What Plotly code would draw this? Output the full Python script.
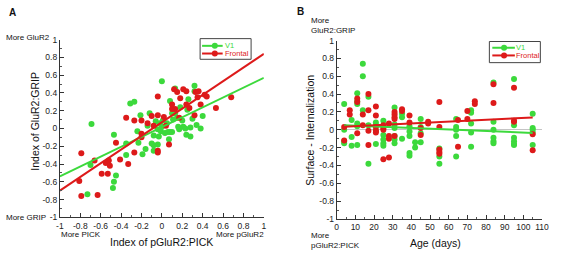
import plotly.graph_objects as go

GREEN = "#3cd93c"
RED = "#dd1a1a"

# ---------------- Panel A data ----------------
a_v1_x = [-0.69, -0.70, -0.73, -0.47, -0.47, -0.48, -0.45, -0.35, -0.35, -0.31, -0.27, -0.24, -0.23,
          -0.21, -0.19, -0.16, -0.14, -0.12, -0.10, -0.08, -0.08, -0.08, -0.06, -0.04, -0.03, -0.04,
          -0.02, -0.01, 0.00, 0.00, 0.01, 0.03, 0.05, 0.06, 0.07, 0.08, 0.08, 0.10, 0.10, 0.11, 0.13,
          0.13, 0.15, 0.16, 0.17, 0.18, 0.20, 0.21, 0.23, 0.24, 0.25, 0.26, 0.28, 0.28, 0.30, 0.32,
          0.32, 0.34, 0.38, 0.40]
a_v1_y = [0.05, -0.41, -0.74, -0.07, -0.60, -0.67, -0.53, -0.17, -0.30, 0.28, 0.30, -0.03, -0.16,
          0.15, -0.29, -0.23, 0.03, 0.17, -0.17, -0.19, -0.25, -0.08, 0.08, -0.01, -0.09, -0.18,
          0.06, -0.03, 0.53, 0.02, 0.09, -0.05, 0.06, -0.04, -0.12, 0.31, -0.04, -0.04, 0.17, 0.10, 0.45,
          0.17, 0.12, 0.02, -0.01, 0.24, 0.09, 0.02, 0.00, -0.07, 0.21, 0.33, 0.01, -0.09, 0.11, 0.42,
          0.48, 0.04, 0.00, 0.14]
a_fr_x = [-0.79, -0.81, -0.79, -0.63, -0.66, -0.59, -0.53, -0.55, -0.52, -0.51, -0.45, -0.41, -0.35,
          -0.33, -0.27, -0.27, -0.20, -0.20, -0.20, -0.14, -0.10, -0.08, -0.04, -0.04, -0.04, -0.04,
          0.02, 0.04, 0.07, 0.10, 0.12, 0.13, 0.15, 0.18, 0.21, 0.24, 0.24, 0.27, 0.32, 0.33, 0.35,
          0.36, 0.38, 0.42, 0.44, 0.53, 0.68, 0.17, 0.10]
a_fr_y = [-0.28, -0.59, -0.76, -0.75, -0.36, -0.51, -0.51, -0.39, -0.36, -0.42, -0.16, -0.35, 0.12,
          -0.40, 0.09, -0.27, 0.09, -0.06, -0.10, 0.06, 0.14, 0.03, 0.36, 0.15, -0.25, -0.27,
          0.13, 0.03, -0.18, 0.27, 0.44, 0.22, 0.41, 0.34, 0.44, 0.42, 0.27, 0.23, 0.15, 0.41, 0.35,
          0.42, 0.27, 0.38, 0.36, 0.23, 0.35, 0.12, 0.22]
a_fit_x = [-1, 1]
a_v1_fit = [-0.54, 0.57]
a_fr_fit = [-0.70, 0.84]
a_ticks = [-1, -0.8, -0.6, -0.4, -0.2, 0, 0.2, 0.4, 0.6, 0.8, 1]
a_ticktext = ["-1", "-0.8", "-0.6", "-0.4", "-0.2", "0", "0.2", "0.4", "0.6", "0.8", "1"]

# ---------------- Panel B data ----------------
b_v1_age = ([4]*4 + [8]*3 + [11]*6 + [14]*3 + [17]*3 + [21]*4 + [25]*5 + [31]*6 + [35]*3 +
            [39]*5 + [42]*2 + [45]*4 + [55]*3 + [64]*5 + [72]*5 + [84]*6 + [95]*6 + [105]*5)
b_v1_val = [0.29, 0.0, -0.13, -0.15,
            0.11, -0.08, -0.18,
            0.41, 0.32, 0.29, 0.07, 0.04, -0.17,
            0.74, 0.60, 0.22,
            0.37, 0.05, -0.38,
            0.08, 0.05, -0.01, -0.16,
            0.10, -0.06, -0.11, -0.15, -0.18,
            0.25, 0.06, 0.02, -0.07, -0.11, -0.15,
            0.18, 0.14, -0.10,
            0.04, -0.02, -0.07, -0.26, -0.29,
            -0.14, -0.20,
            0.12, 0.03, -0.04, -0.14,
            -0.21, -0.30, -0.38,
            0.12, 0.03, 0.0, -0.07, -0.30,
            0.22, 0.19, 0.07, -0.03, -0.19,
            0.53, 0.09, 0.0, -0.09, -0.13, -0.15,
            0.57, 0.05, -0.09, -0.13, -0.16, -0.17,
            0.18, 0.02, 0.0, -0.03, -0.17]
b_fr_age = ([4]*2 + [7]*2 + [11]*3 + [14]*2 + [17]*4 + [21]*5 + [25]*4 + [28]*4 + [31]*5 +
            [35]*2 + [39]*2 + [45]*2 + [49]*2 + [55]*5 + [65]*2 + [70]*2 + [74]*2 + [84]*2 +
            [95]*3 + [105]*2)
b_fr_val = [0.03, -0.12,
            0.22, 0.17,
            0.35, 0.31, -0.04,
            0.17, 0.05,
            0.40, 0.22, -0.01, -0.17,
            0.26, 0.16, 0.03, -0.01, -0.03,
            0.05, 0.02, 0.0, -0.33,
            0.07, -0.07, -0.10, -0.31,
            0.20, 0.17, 0.14, 0.12, -0.07,
            0.23, 0.21,
            0.16, 0.08,
            0.02, -0.06,
            0.09, 0.07,
            0.31, 0.03, -0.22, -0.25, -0.27,
            0.11, -0.19,
            0.21, 0.12,
            0.32, 0.29,
            0.51, 0.30,
            0.47, 0.10, 0.09,
            -0.05, -0.23]
b_fit_x = [4, 105]
b_v1_fit = [0.05, -0.035]
b_fr_fit = [0.035, 0.138]
b_xticks = [0, 10, 20, 30, 40, 50, 60, 70, 80, 90, 100, 110]
b_yticks = a_ticks
b_yticktext = a_ticktext

series_names = ["V1", "Frontal"]
series_colors = [GREEN, RED]

W, H = 565, 255
def px(x): return x / W
def py(y): return 1 - y / H

fig = go.Figure()
MS = 6
# Panel A
fig.add_trace(go.Scatter(x=a_v1_x, y=a_v1_y, mode="markers", marker=dict(color=GREEN, size=MS),
                         showlegend=False, xaxis="x", yaxis="y"))
fig.add_trace(go.Scatter(x=a_fr_x, y=a_fr_y, mode="markers", marker=dict(color=RED, size=MS),
                         showlegend=False, xaxis="x", yaxis="y"))
fig.add_trace(go.Scatter(x=a_fit_x, y=a_v1_fit, mode="lines", line=dict(color=GREEN, width=2),
                         showlegend=False, xaxis="x", yaxis="y"))
fig.add_trace(go.Scatter(x=a_fit_x, y=a_fr_fit, mode="lines", line=dict(color=RED, width=2),
                         showlegend=False, xaxis="x", yaxis="y"))
# Panel B
fig.add_trace(go.Scatter(x=b_v1_age, y=b_v1_val, mode="markers", marker=dict(color=GREEN, size=MS),
                         showlegend=False, xaxis="x2", yaxis="y2"))
fig.add_trace(go.Scatter(x=b_fr_age, y=b_fr_val, mode="markers", marker=dict(color=RED, size=MS),
                         showlegend=False, xaxis="x2", yaxis="y2"))
fig.add_trace(go.Scatter(x=b_fit_x, y=b_v1_fit, mode="lines", line=dict(color=GREEN, width=2),
                         showlegend=False, xaxis="x2", yaxis="y2"))
fig.add_trace(go.Scatter(x=b_fit_x, y=b_fr_fit, mode="lines", line=dict(color=RED, width=2),
                         showlegend=False, xaxis="x2", yaxis="y2"))

def minor(d):
    return dict(ticks="inside", ticklen=2, tickcolor="#555", dtick=d)

axis_common = dict(showline=True, linecolor="#333", linewidth=1, ticks="inside", ticklen=4,
                   tickcolor="#333", showgrid=False, zeroline=False,
                   tickfont=dict(size=8.5, color="#222", family="Liberation Sans, Arial"))

fig.update_layout(
    width=W, height=H, margin=dict(l=0, r=0, t=0, b=0),
    paper_bgcolor="white", plot_bgcolor="white", showlegend=False,
    font=dict(family="Liberation Sans, Arial", color="#222"),
    xaxis=dict(domain=[px(57), px(265)], range=[-1, 1], tickvals=a_ticks, ticktext=a_ticktext,
               anchor="y", minor=minor(0.1), **axis_common),
    yaxis=dict(domain=[py(221), py(36)], range=[-1, 1], tickvals=a_ticks, ticktext=a_ticktext,
               anchor="x", minor=minor(0.1), **axis_common),
    xaxis2=dict(domain=[px(339.3), px(548.7)], range=[0, 110], tickvals=b_xticks,
                anchor="y2", minor=minor(5), **axis_common),
    yaxis2=dict(domain=[py(222.7), py(37)], range=[-1, 1], tickvals=b_yticks, ticktext=b_yticktext,
                anchor="x2", minor=minor(0.1),
                **{**axis_common, "zeroline": True, "zerolinecolor": "#c4c4c4", "zerolinewidth": 1}),
)

# manual legends (box, line+marker, coloured text)
def legend_box(x0, y0, x1, y1, rows_y, line_x0, line_x1, mark_x, text_x):
    fig.add_shape(type="rect", xref="paper", yref="paper", x0=px(x0), x1=px(x1), y0=py(y1), y1=py(y0),
                  line=dict(color="#444", width=1), fillcolor="white", layer="above")
    for name, col, ry in zip(series_names, series_colors, rows_y):
        fig.add_shape(type="line", xref="paper", yref="paper", x0=px(line_x0), x1=px(line_x1),
                      y0=py(ry), y1=py(ry), line=dict(color=col, width=2), layer="above")
        fig.add_shape(type="circle", xref="paper", yref="paper", xsizemode="pixel", ysizemode="pixel",
                      xanchor=px(mark_x), yanchor=py(ry), x0=-3, x1=3, y0=-3, y1=3,
                      fillcolor=col, line=dict(width=0), layer="above")
        fig.add_annotation(text=name, x=px(text_x), y=py(ry), xref="paper", yref="paper", showarrow=False,
                           xanchor="left", yanchor="middle", font=dict(size=7.5, color=col), borderpad=0)

legend_box(200, 35, 252, 56.5, [42.5, 50.5], 202, 223, 215, 224.5)
legend_box(495, 38, 547, 60, [44.5, 52.5], 498, 521, 510, 521)

def ann(text, x, y, size=8, xanchor="left", angle=0, bold=False, align="left"):
    fig.add_annotation(text=f"<b>{text}</b>" if bold else text, x=px(x), y=py(y), xref="paper", yref="paper",
                       showarrow=False, xanchor=xanchor, yanchor="middle", textangle=angle,
                       font=dict(size=size, color="#111"), align=align)

ann("A", 3, 8, size=10, bold=True)
ann("B", 297, 7, size=10, bold=True)
ann("More GluR2", 0, 34)
ann("More GRIP", 0, 221)
ann("More PICK", 56, 239)
ann("More pGluR2", 267, 239, xanchor="right")
ann("Index of pGluR2:PICK", 161, 247, size=10.5, xanchor="center")
ann("Index of GluR2:GRIP", 32, 121, size=10.5, xanchor="center", angle=-90)
ann("More<br>GluR2:GRIP", 311, 21)
ann("More<br>pGluR2:PICK", 311, 245)
ann("Age (days)", 440, 248, size=10.5, xanchor="center")
ann("Surface - Internalization", 312, 130, size=10.5, xanchor="center", angle=-90)

fig.write_html("out.html", config={"displayModeBar": False},
               post_script="document.body.style.margin='0';document.body.style.padding='0';")
